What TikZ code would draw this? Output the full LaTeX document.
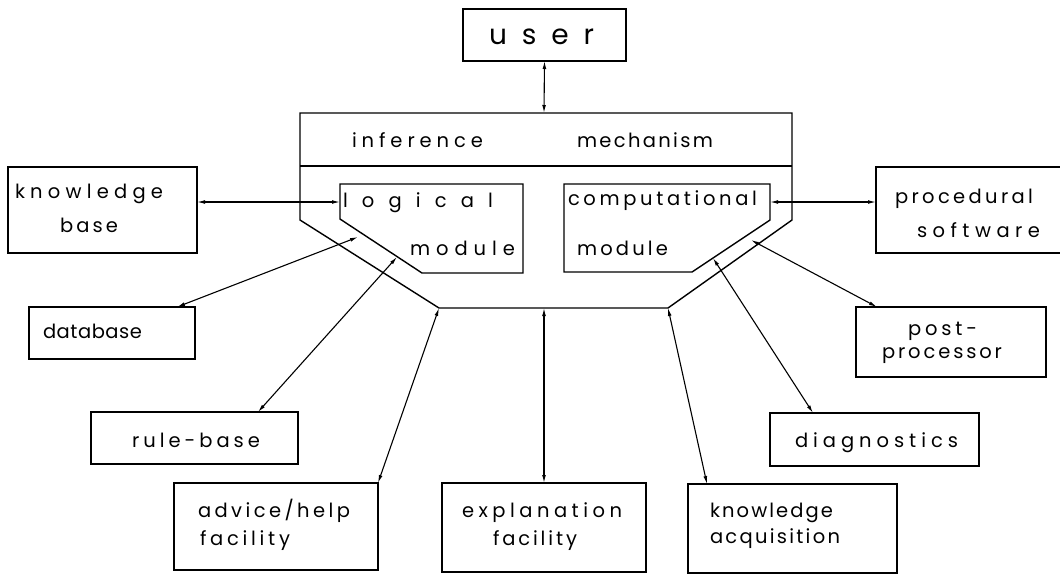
\documentclass[tikz,border=0pt]{standalone}
\usepackage{fontspec}
\setmainfont{Poppins}
\usetikzlibrary{arrows.meta}
\makeatletter
\def\spr#1#2{\hbox to #1{\spr@a#2\relax}}
\def\spr@a#1{\ifx#1\relax\else#1\expandafter\spr@b\fi}
\def\spr@b#1{\ifx#1\relax\else\hfil#1\expandafter\spr@b\fi}
\makeatother
\tikzset{
  box/.style={draw, line width=1.4pt, inner sep=0pt, outer sep=0pt},
  txt/.style={inner sep=0pt, outer sep=0pt, anchor=base west, font=\fontsize{19.5}{22}\selectfont},
  bigtxt/.style={txt, font=\fontsize{28}{30}\selectfont},
  frame/.style={draw, line width=1.4pt, line join=miter},
  arr/.style={{Latex[length=8pt,width=3.8pt]}-{Latex[length=8pt,width=3.8pt]}, line width=1.1pt},
}
\begin{document}
\begin{tikzpicture}[x=1pt,y=-1pt]
\useasboundingbox (0,0) rectangle (1060,574);
% inference engine
\draw[frame] (300,113) -- (792,113) -- (792,220) -- (668,308) -- (439,308) -- (300,220) -- cycle;
\draw[frame] (300,166) -- (792,166);
\draw[frame] (340,184) -- (523,184) -- (523,273) -- (422,273) -- (340,219) -- cycle;
\draw[frame] (564,184) -- (770,184) -- (770,220) -- (692,272) -- (564,272) -- cycle;
% points on the engine
\coordinate (ieTop) at (544,113);
\coordinate (lmW) at (340,202);
\coordinate (lmDb) at (358,237);
\coordinate (lmRb) at (397,257);
\coordinate (cornL) at (439,308);
\coordinate (botM) at (544,308);
\coordinate (cornR) at (668,308);
\coordinate (cmDg) at (713,258);
\coordinate (cmPp) at (751,240);
\coordinate (cmE) at (770,202);
% boxes
\node[box, minimum width=163pt, minimum height=52pt] (user) at (544.5,35) {};
\node[box, minimum width=189pt, minimum height=86pt] (kb) at (102.5,210) {};
\node[box, minimum width=166pt, minimum height=52pt] (db) at (112,333) {};
\node[box, minimum width=207pt, minimum height=52pt] (rb) at (194.5,438) {};
\node[box, minimum width=204pt, minimum height=87pt] (adv) at (276,526.5) {};
\node[box, minimum width=204pt, minimum height=89pt] (exp) at (544,527.5) {};
\node[box, minimum width=209pt, minimum height=89pt] (ka) at (792.5,528.5) {};
\node[box, minimum width=209pt, minimum height=53pt] (diag) at (874.5,439.5) {};
\node[box, minimum width=190pt, minimum height=70pt] (post) at (951,342) {};
\node[box, minimum width=186pt, minimum height=86pt] (proc) at (969,210) {};
% texts
\node[bigtxt] (tuser) at (489,44) {\spr{105pt}{user}};
\node[txt] (tinf) at (352,147) {\spr{131pt}{inference}};
\node[txt] (tmech) at (577,147) {\spr{136pt}{mechanism}};
\node[txt] (tlog) at (343,207) {\spr{150pt}{logical}};
\node[txt] (tmodl) at (410,255) {\spr{105pt}{module}};
\node[txt] (tcomp) at (568,205) {\spr{189pt}{computational}};
\node[txt] (tmodc) at (577,255) {\spr{91pt}{module}};
\node[txt] (tkb1) at (15,198) {\spr{148pt}{knowledge}};
\node[txt] (tkb2) at (60,232) {\spr{58pt}{base}};
\node[txt] (tdb) at (43,338) {\spr{99pt}{database}};
\node[txt] (trb) at (132,447) {\spr{128pt}{rule-base}};
\node[txt] (tadv1) at (198,517) {\spr{152pt}{advice/help}};
\node[txt] (tadv2) at (200,545) {\spr{90pt}{facility}};
\node[txt] (texp1) at (462,517) {\spr{160pt}{explanation}};
\node[txt] (texp2) at (493,545) {\spr{84pt}{facility}};
\node[txt] (tka1) at (710,517) {\spr{123pt}{knowledge}};
\node[txt] (tka2) at (710,543) {\spr{130pt}{acquisition}};
\node[txt] (tdiag) at (795,447) {\spr{163pt}{diagnostics}};
\node[txt] (tpp1) at (908,335) {\spr{69pt}{post-}};
\node[txt] (tpp2) at (882,358) {\spr{120pt}{processor}};
\node[txt] (tproc1) at (895,203) {\spr{138pt}{procedural}};
\node[txt] (tproc2) at (917,237) {\spr{123pt}{software}};
% connectors
\draw[arr] (user.south) -- (ieTop);
\draw[arr] ([yshift=8pt]kb.east) -- (lmW);
\draw[arr] ([xshift=65pt]db.north) -- (lmDb);
\draw[arr] ([xshift=63.5pt]rb.north) -- (lmRb);
\draw[arr] (adv.north east) -- (cornL);
\draw[arr] (exp.north) -- (botM);
\draw[arr] ([xshift=-85.5pt]ka.north) -- (cornR);
\draw[arr] ([xshift=-61.5pt]diag.north) -- (cmDg);
\draw[arr] ([xshift=-74pt]post.north) -- (cmPp);
\draw[arr] ([yshift=8pt]proc.west) -- (cmE);
\end{tikzpicture}
\end{document}
